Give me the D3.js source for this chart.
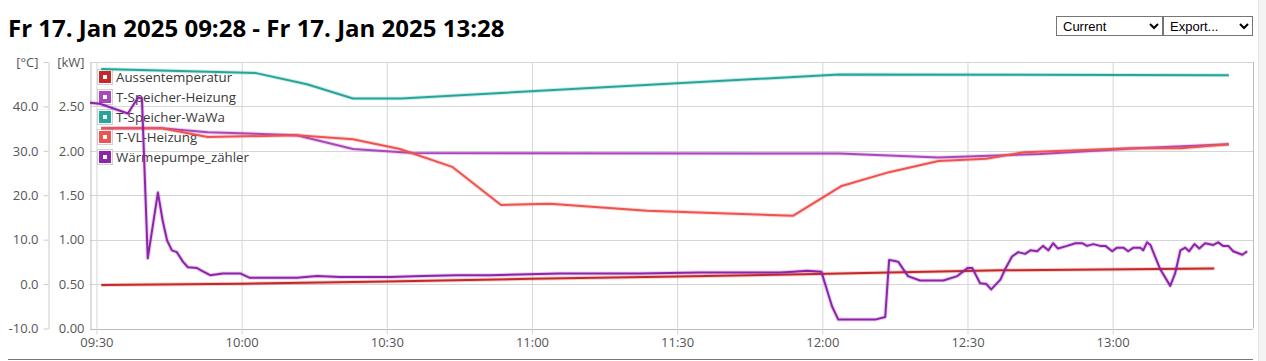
<!DOCTYPE html>
<html>
<head>
<meta charset="utf-8">
<script src="https://cdn.jsdelivr.net/npm/d3@7"></script>
<style>
  body { margin: 0; background: #fff; overflow: hidden; font-family: "Open Sans", sans-serif; }
  #wrap { position: relative; width: 1266px; height: 361px; }
  select { position: absolute; top: 16px; height: 20px; font: 13px "Liberation Sans", Arial, sans-serif;
           border: 1px solid #767676; border-radius: 0; background: #fff; color: #000; padding: 0 2px; }
</style>
</head>
<body>
<div id="wrap">
  <svg id="chart" width="1266" height="361"></svg>
  <select style="left:1056px;width:107px"><option>Current</option></select>
  <select style="left:1163px;width:90px"><option>Export...</option></select>
</div>
<script>
// ---- data ----
var title = "Fr 17. Jan 2025 09:28 - Fr 17. Jan 2025 13:28"
var timeRange = ["09:28:40", "13:29:00"]
var tempTicks = [-10, 0, 10, 20, 30, 40, 50]
var kwTicks = [0, 0.5, 1, 1.5, 2, 2.5, 3]
var seriesNames = ["Aussentemperatur", "T-Speicher-Heizung", "T-Speicher-WaWa", "T-VL-Heizung", "Wärmepumpe_zähler"]
var seriesColors = ["#c62828", "#ab47bc", "#26a69a", "#ef5350", "#8e24aa"]
var seriesUnits = ["C", "C", "C", "C", "kW"]

var aussentemperatur = [["09:31",-0.2],["10:00",0.1],["10:30",0.6],["11:00",1.2],["11:30",1.7],
  ["11:56",2.2],["12:37",3.1],["13:21",3.5]]

var speicherHeizung = [["09:31",35.1],["09:43:30",35.1],["09:53",34.2],["10:11:24",33.5],["10:23",30.4],
  ["10:35:24",29.5],["12:03:30",29.4],["12:24",28.5],["12:45",29.3],["13:05",30.6],["13:24",31.5]]

var speicherWaWa = [["09:31",48.4],["10:03",47.5],["10:13:30",45.0],["10:23",41.8],["10:33",41.8],
  ["12:03:30",47.2],["13:24",47.0]]

var vlHeizung = [["09:31",35.1],["09:43:30",35.1],["09:53",33.1],["10:11:24",33.5],["10:23",32.6],
  ["10:32:42",30.4],["10:43:30",26.4],["10:53:36",17.8],["11:03:42",18.1],["11:23:48",16.5],["11:54",15.4],
  ["12:04",22.1],["12:13:48",25.2],["12:24",27.7],["12:33:48",28.2],["12:41:42",29.7],["13:03:36",30.6],
  ["13:14",30.6],["13:24",31.5]]

var waermepumpe = [["09:28:40",2.54],["09:30:43",2.53],["09:36:30",2.42],["09:38:36",2.60],["09:39:24",2.59],
  ["09:40:36",0.79],["09:42:42",1.53],["09:43:42",1.21],["09:44:36",0.99],["09:45:36",0.88],["09:46:36",0.86],
  ["09:47:54",0.75],["09:48:54",0.69],["09:50:48",0.68],["09:51:48",0.65],["09:53:30",0.60],["09:56:06",0.62],
  ["09:59:42",0.62],["10:01:42",0.57],["10:05:54",0.57],["10:11:24",0.57],["10:15:36",0.59],["10:20:18",0.58],
  ["10:30:42",0.58],["10:37:30",0.59],["10:44:30",0.60],["10:51:18",0.60],["11:05:48",0.62],["11:22:18",0.62],
  ["11:34:42",0.63],["11:51:18",0.63],["11:54:00",0.64],["11:56:54",0.65],["11:59:48",0.64],["12:02:00",0.25],
  ["12:03:18",0.10],["12:07:12",0.10],["12:10:54",0.10],["12:13:00",0.13],["12:13:48",0.77],["12:15:00",0.76],
  ["12:15:42",0.75],["12:17:42",0.59],["12:20:12",0.54],["12:25:00",0.54],["12:27:54",0.59],["12:30:00",0.68],
  ["12:31:00",0.68],["12:32:36",0.51],["12:33:54",0.50],["12:34:54",0.44],["12:36:48",0.55],["12:37:48",0.67],
  ["12:39:12",0.81],["12:40:30",0.86],["12:41:54",0.84],["12:43:00",0.88],["12:44:24",0.87],["12:45:36",0.93],
  ["12:46:42",0.88],["12:47:42",0.96],["12:48:42",0.90],["12:50:36",0.93],["12:52:18",0.96],["12:53:42",0.96],
  ["12:54:42",0.93],["12:56:00",0.95],["12:57:24",0.93],["12:58:30",0.93],["12:59:54",0.87],["13:00:54",0.91],
  ["13:02:12",0.91],["13:03:12",0.87],["13:04:18",0.91],["13:05:42",0.91],["13:06:18",0.88],["13:07:06",0.97],
  ["13:07:48",0.94],["13:09:48",0.67],["13:11:54",0.48],["13:12:54",0.62],["13:14:00",0.88],["13:15:00",0.91],
  ["13:15:48",0.87],["13:16:54",0.95],["13:17:54",0.90],["13:19:06",0.96],["13:20:48",0.94],["13:21:48",0.97],
  ["13:22:48",0.93],["13:23:54",0.93],["13:24:54",0.87],["13:26:48",0.83],["13:27:48",0.87]]

var seriesData = [aussentemperatur, speicherHeizung, speicherWaWa, vlHeizung, waermepumpe]

// ---- layout ----
var plotLeft = 90, plotRight = 1253, plotTop = 62, plotBottom = 328.5
var svg = d3.select("#chart")

function parseTime(s){
  return d3.timeParse(s.length > 5 ? "%H:%M:%S" : "%H:%M")(s)
}

var x = d3.scaleTime().domain(timeRange.map(parseTime)).range([plotLeft, plotRight])
var yT = d3.scaleLinear().domain([-10, 50]).range([plotBottom, plotTop])
var yK = d3.scaleLinear().domain([0, 3]).range([plotBottom, plotTop])

// title
svg.append("text")
  .attr("x", 8).attr("y", 37)
  .style("font-family", "'Open Sans', sans-serif")
  .style("font-weight", "bold")
  .style("font-size", "24px")
  .attr("fill", "#000")
  .text(title)

// right scroll strip + bottom rule
svg.append("rect").attr("x", 1258).attr("y", 0).attr("width", 8).attr("height", 361).attr("fill", "#f4f4f4")
svg.append("line").attr("x1", 1258.5).attr("x2", 1258.5).attr("y1", 0).attr("y2", 361).attr("stroke", "#e4e4e4")
svg.append("line").attr("x1", 8).attr("x2", plotRight).attr("y1", 359.5).attr("y2", 359.5).attr("stroke", "#777")

// horizontal grid
svg.append("g").selectAll("line").data(kwTicks).join("line")
  .attr("x1", plotLeft).attr("x2", plotRight)
  .attr("y1", d => Math.round(yK(d)) + 0.5).attr("y2", d => Math.round(yK(d)) + 0.5)
  .attr("stroke", d => d === 0 ? "#bbb" : "#d6d6d6")

// x axis with vertical grid
var xAxis = d3.axisBottom(x)
  .ticks(d3.timeMinute.every(30))
  .tickFormat(d3.timeFormat("%H:%M"))
  .tickSize(-(plotBottom + 6 - plotTop))
  .tickSizeOuter(0)
  .tickPadding(3)
var gx = svg.append("g").attr("transform", "translate(0," + (plotBottom + 6) + ")").call(xAxis)
gx.select(".domain").remove()
gx.selectAll(".tick line").attr("stroke", "#d6d6d6")
gx.selectAll(".tick text").attr("fill", "#555")
  .style("font-family", "'Open Sans', sans-serif").style("font-size", "13px")

// right frame
svg.append("line").attr("x1", plotRight + 0.5).attr("x2", plotRight + 0.5).attr("y1", plotTop).attr("y2", plotBottom)
  .attr("stroke", "#bbb")

// temperature axis
var tAxis = d3.axisLeft(yT).tickValues(tempTicks).tickSize(5).tickSizeOuter(0).tickPadding(5)
  .tickFormat(d => d === 50 ? "[°C]" : d.toFixed(1))
var gt = svg.append("g").attr("transform", "translate(48.5,0)").call(tAxis)
gt.select(".domain").attr("stroke", "#ccc")
gt.selectAll(".tick line").attr("stroke", "#ccc")
gt.selectAll(".tick text").attr("fill", "#555")
  .style("font-family", "'Open Sans', sans-serif").style("font-size", "13px")

// kW axis
var kAxis = d3.axisLeft(yK).tickValues(kwTicks).tickSize(0).tickSizeOuter(0).tickPadding(6)
  .tickFormat(d => d === 3 ? "[kW]" : d.toFixed(2))
var gk = svg.append("g").attr("transform", "translate(" + (plotLeft + 0.5) + ",0)").call(kAxis)
gk.select(".domain").attr("stroke", "#bbb")
gk.selectAll(".tick text").attr("fill", "#555")
  .style("font-family", "'Open Sans', sans-serif").style("font-size", "13px")

// legend (sits under the lines)
var legend = svg.append("g").attr("transform", "translate(97.5,69.5)")
var item = legend.selectAll("g").data(seriesNames).join("g")
  .attr("transform", (d, i) => "translate(0," + (i * 20) + ")")
item.append("rect").attr("width", 15).attr("height", 15).attr("fill", "#fff").attr("stroke", "#d0d0d0")
item.append("rect").attr("x", 1.5).attr("y", 1.5).attr("width", 12).attr("height", 12)
  .attr("fill", (d, i) => seriesColors[i])
item.append("rect").attr("x", 5.5).attr("y", 5.5).attr("width", 4).attr("height", 4).attr("fill", "#fff")
item.append("text").attr("x", 18.5).attr("y", 12.5)
  .style("font-family", "'Open Sans', sans-serif").style("font-size", "13.3px")
  .attr("fill", "#3a3a3a")
  .text(d => d)

// lines
svg.append("clipPath").attr("id", "plotclip")
  .append("rect").attr("x", plotLeft).attr("y", plotTop).attr("width", plotRight - plotLeft).attr("height", plotBottom - plotTop)

var plot = svg.append("g").attr("clip-path", "url(#plotclip)")

seriesData.forEach(function(data, i){
  var yScale = seriesUnits[i] === "kW" ? yK : yT
  var line = d3.line()
    .x(d => x(parseTime(d[0])))
    .y(d => yScale(d[1]))
  plot.append("path").datum(data)
    .attr("d", line)
    .attr("fill", "none")
    .attr("stroke", seriesColors[i])
    .attr("stroke-width", 4)
    .attr("stroke-opacity", 0.22)
    .attr("stroke-linejoin", "round")
  plot.append("path").datum(data)
    .attr("d", line)
    .attr("fill", "none")
    .attr("stroke", seriesColors[i])
    .attr("stroke-width", 2)
    .attr("stroke-linejoin", "round")
})
</script>
</body>
</html>
